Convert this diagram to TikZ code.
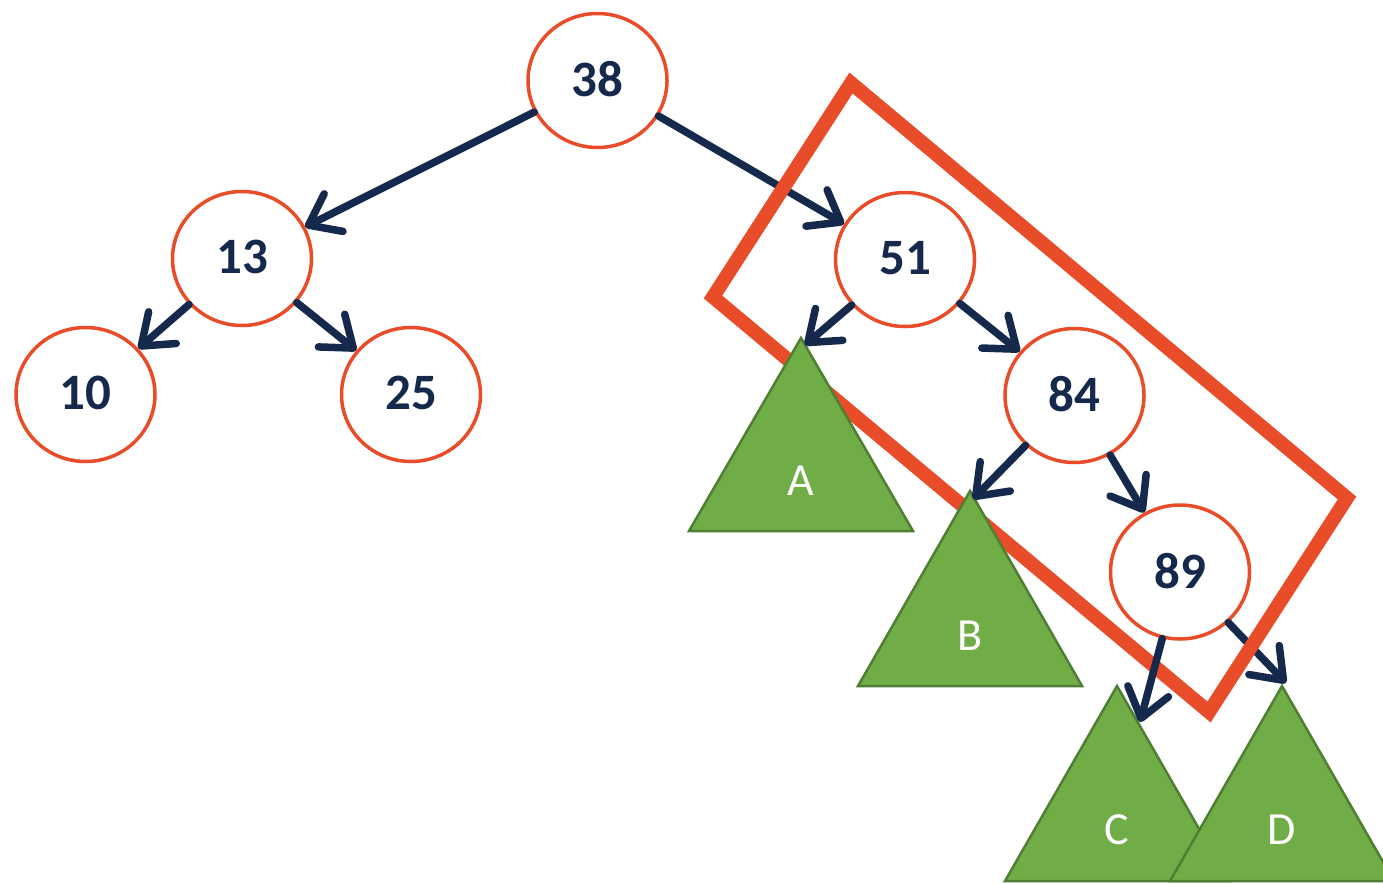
\documentclass[tikz,border=0pt]{standalone}
\usepackage{fontspec}
\setmainfont{Carlito}
\usetikzlibrary{arrows.meta,shapes.geometric}
\definecolor{keyred}{HTML}{E84C28}
\definecolor{navy}{HTML}{15294D}
\definecolor{leafgreen}{HTML}{70AD47}
\definecolor{leafedge}{HTML}{507E32}
\begin{document}
\begin{tikzpicture}[x=1pt,y=-1pt,
  key/.style={ellipse, draw=keyred, line width=3.5pt, fill=white,
    minimum width=139pt, minimum height=134pt, inner sep=0pt,
    font=\fontsize{51}{51}\selectfont\bfseries, text=navy},
  link/.style={draw=navy, line width=7.5pt, line cap=round,
    -{Straight Barb[length=28pt,width=42pt,round]}},
  subtree/.style={fill=leafgreen, draw=leafedge, line width=2.5pt, line join=miter},
  sublabel/.style={text=white, font=\fontsize{46}{46}\selectfont},
  frame/.style={draw=keyred, line width=14pt, line join=miter}]
\useasboundingbox (0,0) rectangle (1383,883);

% tree keys
\node[key] (n38) at (597.5,80.5) {\raisebox{3pt}{38}};
\node[key] (n13) at (242,258.5) {\raisebox{3pt}{13}};
\node[key] (n10) at (85.5,394.5) {\raisebox{3pt}{10}};
\node[key] (n25) at (411,394.5) {\raisebox{3pt}{25}};
\node[key] (n51) at (905,259.5) {\raisebox{3pt}{51}};
\node[key] (n84) at (1074.5,395.5) {\raisebox{3pt}{84}};
\node[key] (n89) at (1180,572) {\raisebox{3pt}{89}};

% arrow tips at the subtree apexes
\coordinate (tipA) at (805,345);
\coordinate (tipB) at (973,499);
\coordinate (tipC) at (1140,722);
\coordinate (tipD) at (1286,683);

% links that pass under the highlight frame
\draw[link] (n38) -- (n51);
\draw[link] (n89) -- (tipD);

% highlighted right spine
\draw[frame] (851,83) -- (1347,498) -- (1209,712) -- (713,297) -- cycle;

% subtrees
\draw[subtree] (801,338) -- (913,531) -- (689,531) -- cycle;
\node[sublabel] (lA) at (801,481) {A};
\draw[subtree] (970,491) -- (1082,686) -- (858,686) -- cycle;
\node[sublabel] (lB) at (970,636) {B};
\draw[subtree] (1117,686) -- (1229,881) -- (1005,881) -- cycle;
\node[sublabel] (lC) at (1117,830) {C};
\draw[subtree] (1282,686) -- (1394,881) -- (1170,881) -- cycle;
\node[sublabel] (lD) at (1282,830) {D};

% remaining links
\draw[link] (n38) -- (n13);
\draw[link] (n13) -- (n10);
\draw[link] (n13) -- (n25);
\draw[link] (n51) -- (tipA);
\draw[link] (n51) -- (n84);
\draw[link] (n84) -- (tipB);
\draw[link] (n84) -- (n89);
\draw[link] (n89) -- (tipC);
\end{tikzpicture}
\end{document}
